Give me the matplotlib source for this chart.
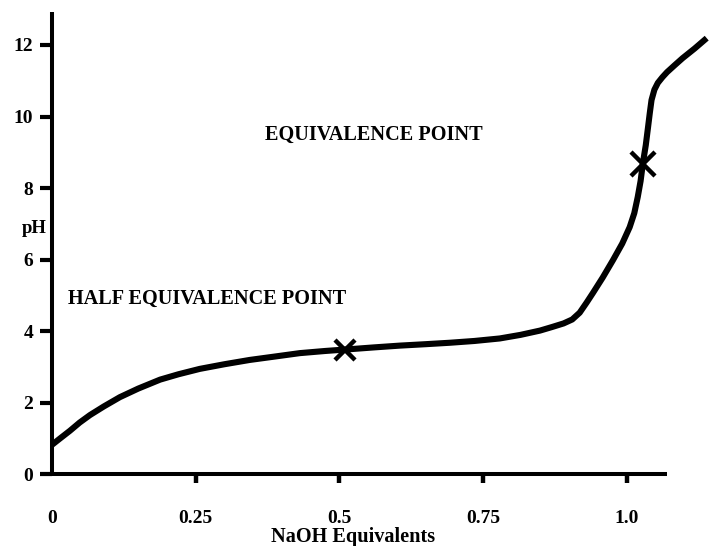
import matplotlib
matplotlib.use('Agg')
import matplotlib.pyplot as plt

plt.rcParams['font.family'] = ['Liberation Serif', 'DejaVu Serif']
plt.rcParams['font.weight'] = 'bold'

# Titration curve
naoh_eq = [0.0, 0.015, 0.031, 0.048, 0.066, 0.09, 0.118, 0.15, 0.188, 0.22,
           0.257, 0.3, 0.344, 0.39, 0.431, 0.475, 0.518, 0.56, 0.605, 0.65,
           0.692, 0.735, 0.779, 0.815, 0.849, 0.87, 0.89, 0.905, 0.918, 0.93,
           0.941, 0.958, 0.976, 0.992, 1.005, 1.013, 1.019, 1.024, 1.028, 1.033,
           1.037, 1.040, 1.043, 1.048, 1.054, 1.062, 1.070, 1.083, 1.097, 1.118,
           1.139]
ph = [0.83, 1.02, 1.22, 1.45, 1.66, 1.90, 2.16, 2.40, 2.65, 2.80,
      2.95, 3.08, 3.20, 3.30, 3.39, 3.45, 3.50, 3.55, 3.60, 3.64,
      3.68, 3.73, 3.80, 3.90, 4.02, 4.12, 4.22, 4.33, 4.52, 4.80,
      5.07, 5.50, 5.99, 6.45, 6.91, 7.30, 7.75, 8.20, 8.70, 9.20,
      9.71, 10.10, 10.46, 10.75, 10.94, 11.10, 11.24, 11.43, 11.63, 11.90,
      12.19]

half_eq_x = [0.51]
half_eq_ph = [3.48]
eq_x = [1.028]
eq_ph = [8.68]

x_ticks = [0, 0.25, 0.5, 0.75, 1.0]
x_tick_labels = ['0', '0.25', '0.5', '0.75', '1.0']
y_ticks = [0, 2, 4, 6, 8, 10, 12]
y_tick_labels = ['0', '2', '4', '6', '8', '10', '12']

fig = plt.figure(figsize=(7.09, 5.46), dpi=100)
ax = fig.add_axes([0.0564, 0.131, 0.9436, 0.847])

ax.plot(naoh_eq, ph, color='black', lw=4.4, solid_capstyle='butt',
        solid_joinstyle='round', clip_on=False, zorder=3)
ax.plot(half_eq_x, half_eq_ph, ls='none', marker='x', ms=15, mew=3.2,
        color='black', clip_on=False, zorder=4)
ax.plot(eq_x, eq_ph, ls='none', marker='x', ms=17, mew=3.2,
        color='black', clip_on=False, zorder=4)

ax.set_xlim(-0.021, 1.143)
ax.set_ylim(0, 12.92)

for s in ['top', 'right']:
    ax.spines[s].set_visible(False)
ax.spines['left'].set_position(('data', 0))
ax.spines['left'].set_bounds(0, 12.92)
ax.spines['bottom'].set_bounds(-0.021, 1.07)
for s in ['left', 'bottom']:
    ax.spines[s].set_linewidth(2.9)
    ax.spines[s].set_capstyle('butt')

ax.set_xticks(x_ticks)
ax.set_xticklabels(x_tick_labels)
ax.set_yticks(y_ticks)
ax.set_yticklabels(y_tick_labels)
ax.tick_params(axis='y', direction='out', length=8.6, width=3, pad=5, labelsize=14)
ax.tick_params(axis='x', direction='out', length=6.5, width=3.2, pad=19, labelsize=14)
ax.xaxis.get_major_ticks()[0].tick1line.set_visible(False)

ax.set_xlabel('NaOH Equivalents', fontsize=14.6, fontweight='bold')
ax.xaxis.set_label_coords(0.468, -0.135)
ax.xaxis.label.set_va('center')
ax.set_ylabel('pH', fontsize=13.5, fontweight='bold', rotation=0)
ax.yaxis.set_label_coords(-0.009, 0.531)
ax.yaxis.label.set_va('center')
ax.yaxis.label.set_ha('center')

ax.text(0.370, 9.34, 'EQUIVALENCE POINT', fontsize=14.6, fontweight='bold',
        ha='left', va='baseline')
ax.text(0.028, 4.76, 'HALF EQUIVALENCE POINT', fontsize=14.6, fontweight='bold',
        ha='left', va='baseline')

fig.savefig('out.png', dpi=100)
